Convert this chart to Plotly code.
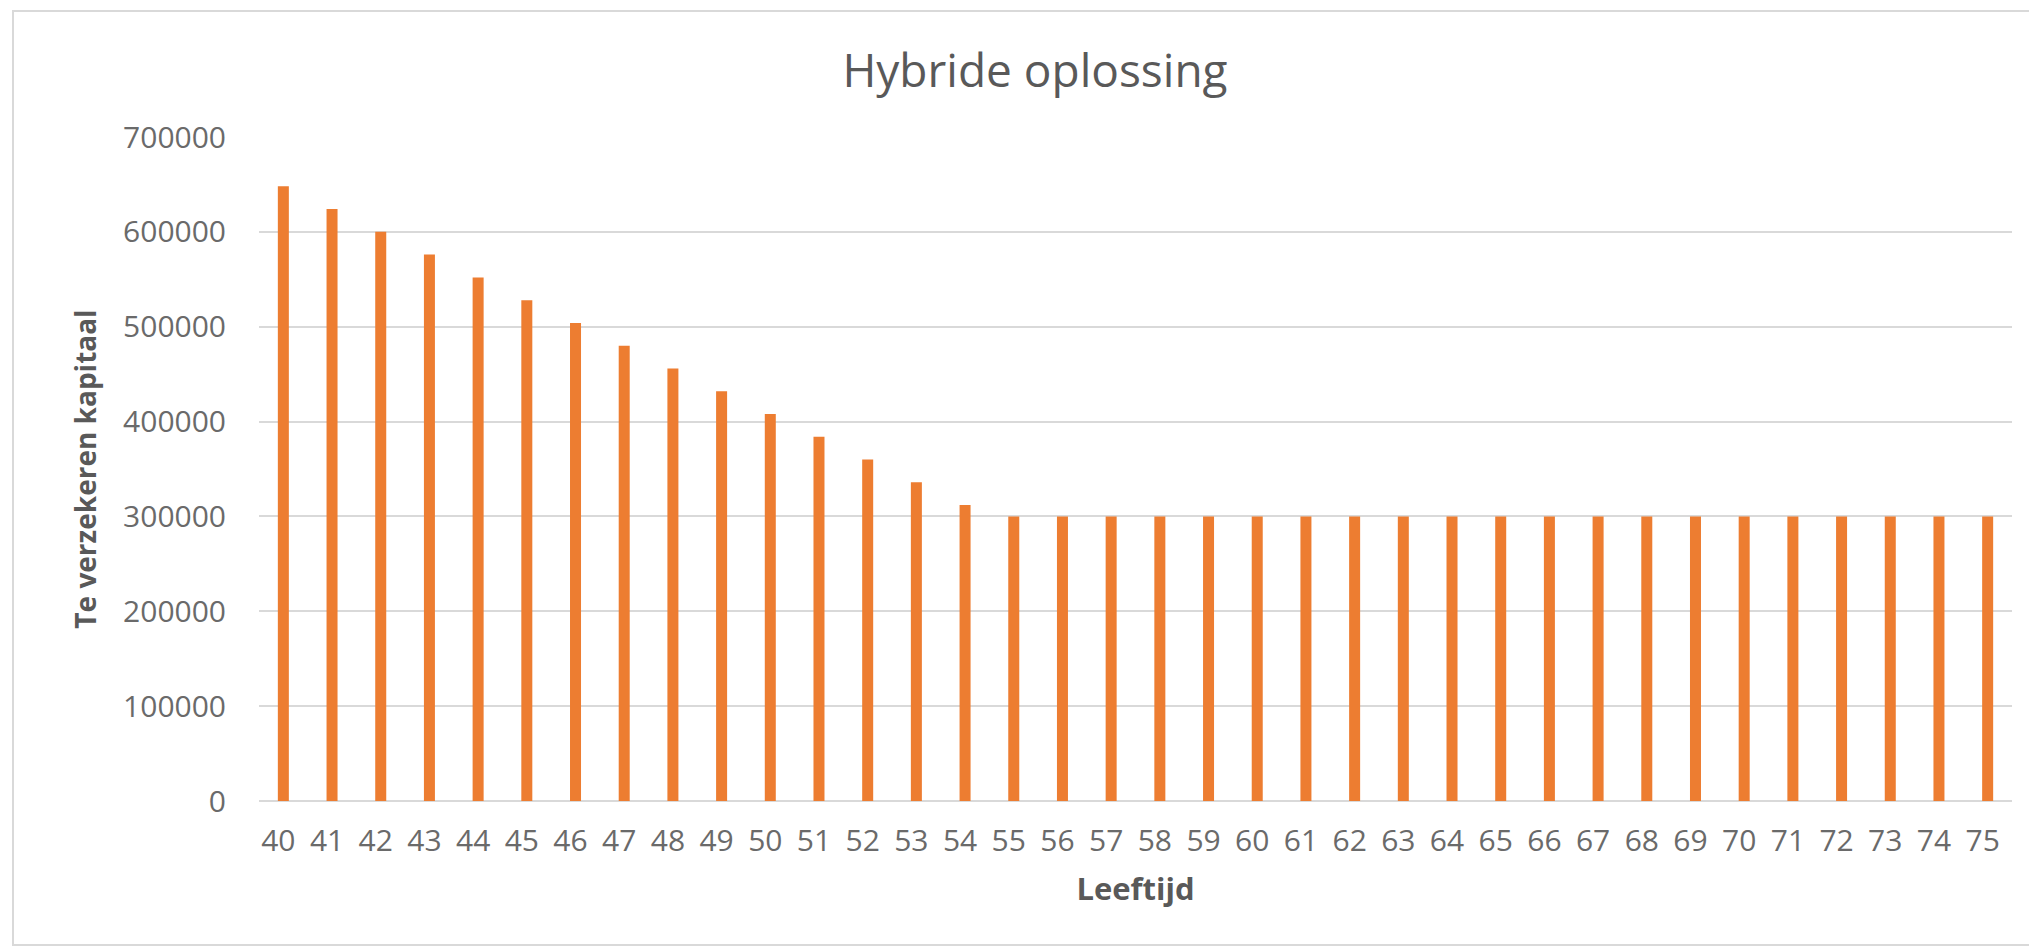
import plotly.graph_objects as go

ages = [str(a) for a in range(40, 76)]
kapitaal = [648000, 624000, 600000, 576000, 552000, 528000, 504000, 480000,
            456000, 432000, 408000, 384000, 360000, 336000, 312000,
            300000, 300000, 300000, 300000, 300000, 300000, 300000, 300000,
            300000, 300000, 300000, 300000, 300000, 300000, 300000, 300000,
            300000, 300000, 300000, 300000, 300000]
y_ticks = [0, 100000, 200000, 300000, 400000, 500000, 600000, 700000]

W, H = 2029, 947
FONT = "Open Sans"
TXT = "#595959"
TICK = "#6a6a6a"
GRID = "#D9D9D9"

fig = go.Figure(go.Bar(x=ages, y=kapitaal, marker_color="#ED7D31",
                       marker_line_width=0))

fig.update_layout(
    width=W, height=H,
    margin=dict(l=259, r=17, t=137, b=146),
    paper_bgcolor="white", plot_bgcolor="white",
    bargap=0.774,
    showlegend=False,
    font=dict(family=FONT, color=TXT),
    title=dict(text="Hybride oplossing", font=dict(size=46, color=TXT, family=FONT),
               x=1035 / W, xref="container", xanchor="center",
               y=1 - 71 / H, yref="container", yanchor="middle"),
    xaxis=dict(type="category", showgrid=False, showline=False, zeroline=False,
               tickfont=dict(size=30, color=TICK), ticks="", ticklabelstandoff=19,
               ticklabelshift=-5,
               title=dict(text="<b>Leeftijd</b>", font=dict(size=31, color=TXT), standoff=19)),
    yaxis=dict(range=[0, 700000], tickvals=y_ticks, ticktext=[str(v) for v in y_ticks],
               showgrid=True, gridcolor=GRID, gridwidth=2, zeroline=True,
               zerolinecolor=GRID, zerolinewidth=2, showline=False,
               tickfont=dict(size=30, color=TICK), ticks="", ticklabelstandoff=32,
               title=dict(text="<b>Te verzekeren kapitaal</b>", font=dict(size=28, color=TXT), standoff=18)),
    shapes=[dict(type="rect", xref="paper", yref="paper",
                 x0=-(259 - 13) / (W - 259 - 17), x1=(W + 10 - 259) / (W - 259 - 17),
                 y0=-(146 - 2) / (H - 137 - 146), y1=1 + (137 - 11) / (H - 137 - 146),
                 line=dict(color=GRID, width=2), layer="below")],
)

fig.write_html("out.html")
